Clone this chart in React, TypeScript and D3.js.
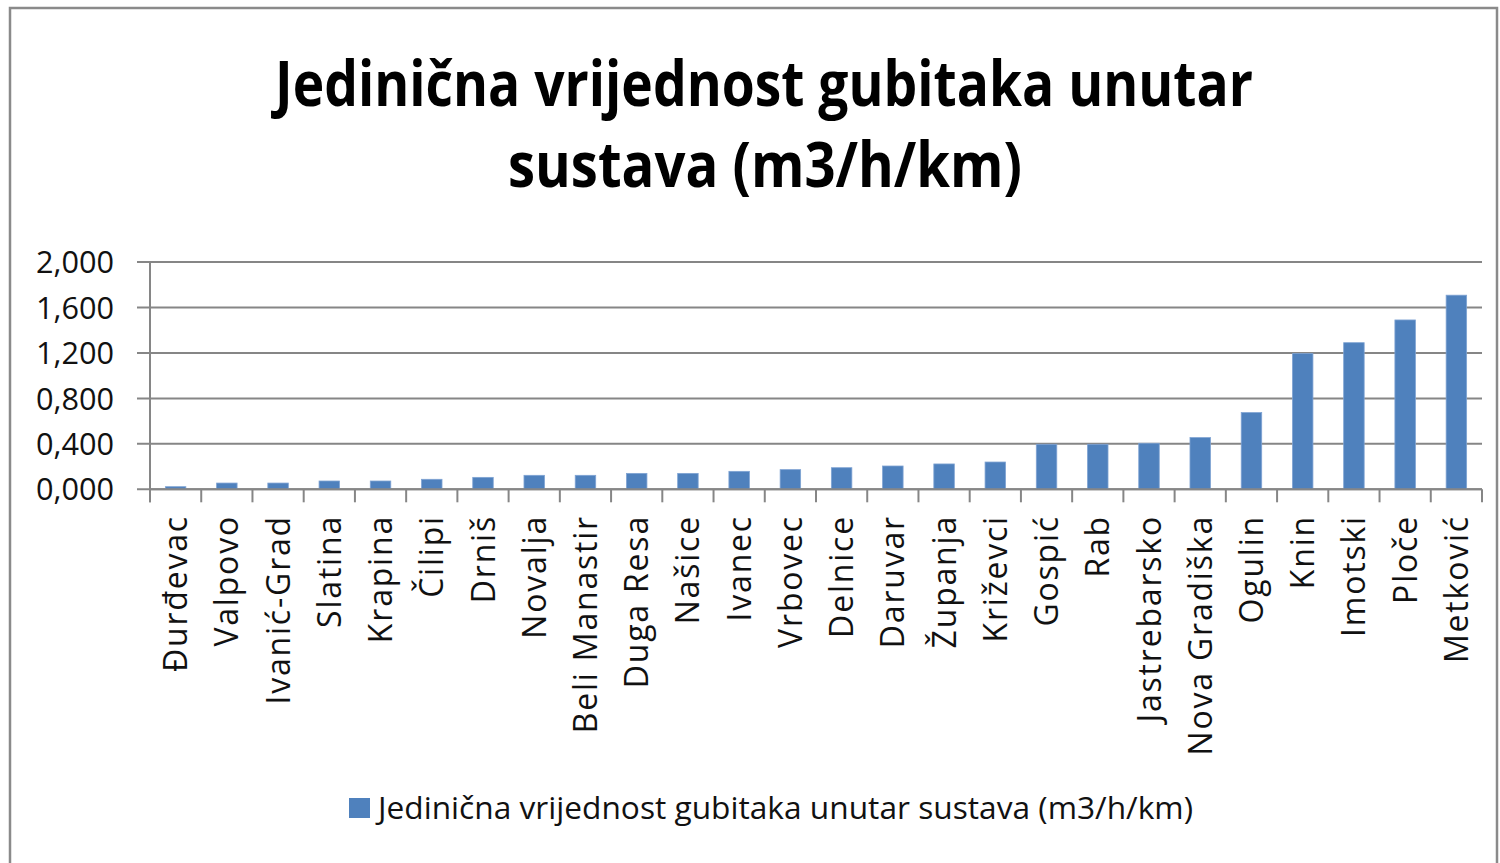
import React from "react";
import * as d3 from "d3";

const categories = [
  "Đurđevac", "Valpovo", "Ivanić-Grad", "Slatina", "Krapina", "Čilipi", "Drniš",
  "Novalja", "Beli Manastir", "Duga Resa", "Našice", "Ivanec", "Vrbovec", "Delnice",
  "Daruvar", "Županja", "Križevci", "Gospić", "Rab", "Jastrebarsko", "Nova Gradiška",
  "Ogulin", "Knin", "Imotski", "Ploče", "Metković",
];
const values = [
  0.023, 0.055, 0.055, 0.073, 0.073, 0.088, 0.105, 0.123, 0.123, 0.14, 0.14, 0.158,
  0.173, 0.19, 0.205, 0.223, 0.24, 0.396, 0.396, 0.405, 0.455, 0.675, 1.194, 1.29,
  1.49, 1.708,
];
const yTicks = [0, 0.4, 0.8, 1.2, 1.6, 2.0];
const titleLines = ["Jedinična vrijednost gubitaka unutar", "sustava (m3/h/km)"];
const seriesName = "Jedinična vrijednost gubitaka unutar sustava (m3/h/km)";

const W = 1500;
const H = 863;
const left = 150;
const right = 1482;
const top = 262;
const bottom = 489.3;

export default function App() {
  const x = d3.scaleBand<string>().domain(categories).range([left, right]).paddingInner(0.6).paddingOuter(0.3);
  const y = d3.scaleLinear().domain([0, 2]).range([bottom, top]);
  const fmt = (v: number) => d3.format(".3f")(v).replace(".", ",");
  const grid = "#868686";
  const boundaries = d3.range(categories.length + 1).map((i) => left + i * ((right - left) / categories.length));

  return (
    <svg width={W} height={H} style={{ position: "absolute", left: 0, top: 0, background: "#fff" }}>
      <rect x={0} y={0} width={W} height={H} fill="#fff" />
      <rect x={10} y={8} width={1487} height={900} fill="none" stroke="#8a8a8a" strokeWidth={2.5} />
      {/* title */}
      <text x={764} y={106} textAnchor="middle" fontFamily="'Open Sans', sans-serif" fontWeight={700} fontSize={62}
        textLength={978} lengthAdjust="spacingAndGlyphs" fill="#000">{titleLines[0]}</text>
      <text x={765} y={187} textAnchor="middle" fontFamily="'Open Sans', sans-serif" fontWeight={700} fontSize={62}
        textLength={514} lengthAdjust="spacingAndGlyphs" fill="#000">{titleLines[1]}</text>
      {/* gridlines */}
      {yTicks.map((t) => (
        <g key={t}>
          <line x1={137} x2={right} y1={y(t)} y2={y(t)} stroke={grid} strokeWidth={2} />
          <text x={114} y={y(t)} dy="0.36em" textAnchor="end" fontFamily="'Open Sans', sans-serif" fontSize={31}
            textLength={78} lengthAdjust="spacingAndGlyphs" fill="#111">{fmt(t)}</text>
        </g>
      ))}
      {/* y axis */}
      <line x1={left} x2={left} y1={top} y2={bottom + 13} stroke={grid} strokeWidth={2} />
      {/* x ticks */}
      {boundaries.map((b, i) => (
        <line key={i} x1={b} x2={b} y1={bottom} y2={bottom + 13} stroke={grid} strokeWidth={2} />
      ))}
      {/* bars */}
      {categories.map((c, i) => (
        <rect key={c} x={x(c)} y={y(values[i])} width={x.bandwidth()} height={bottom - y(values[i])}
          fill="#4f81bd" stroke="#7fa3d3" strokeWidth={0.8} />
      ))}
      <line x1={left} x2={right} y1={bottom} y2={bottom} stroke={grid} strokeWidth={2} />
      {/* category labels */}
      {categories.map((c) => {
        const cx = (x(c) as number) + x.bandwidth() / 2;
        return (
          <text key={c} transform={`translate(${cx},515) rotate(-90)`} dy="0.36em" textAnchor="end"
            fontFamily="'Open Sans', sans-serif" fontSize={32} letterSpacing={1.8} fill="#111">{c}</text>
        );
      })}
      {/* legend */}
      <rect x={349} y={798} width={21} height={20} fill="#4f81bd" />
      <text x={378} y={819} fontFamily="'Open Sans', sans-serif" fontSize={31} textLength={815}
        lengthAdjust="spacingAndGlyphs" fill="#111">{seriesName}</text>
    </svg>
  );
}
